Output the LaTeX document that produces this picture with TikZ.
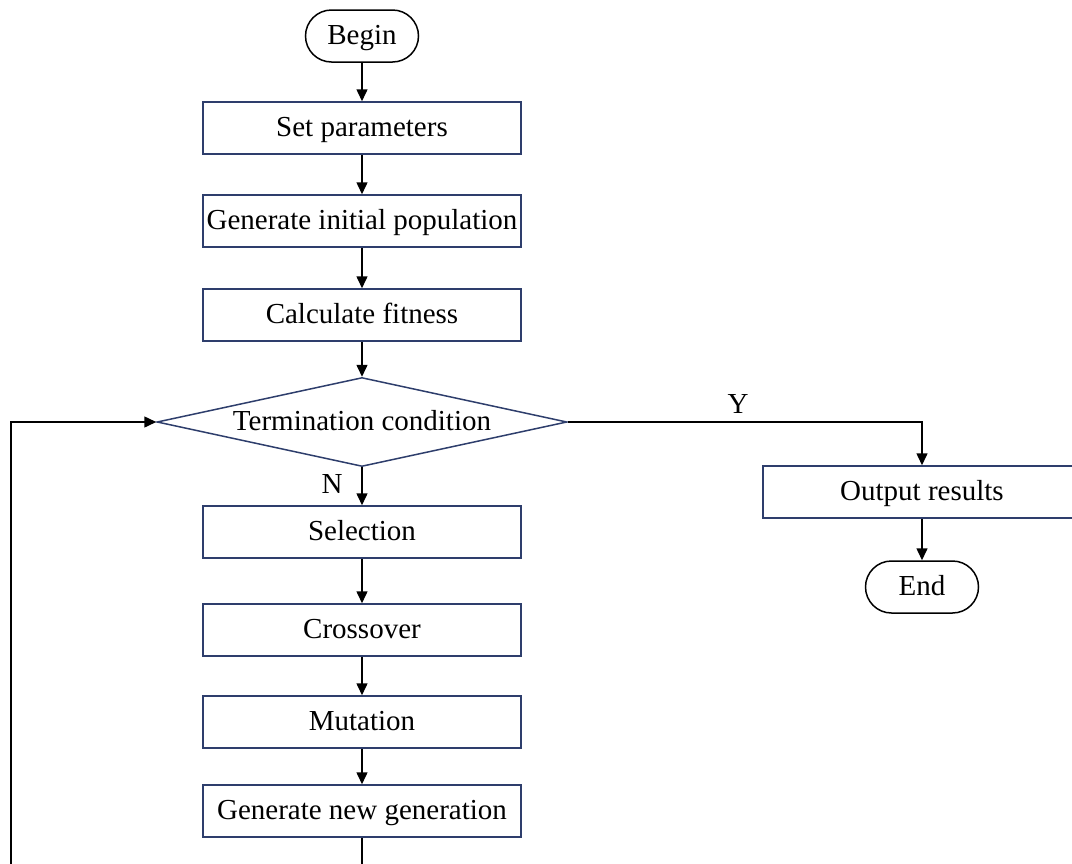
\documentclass[tikz,border=0pt]{standalone}
\usepackage{fontspec}
\setmainfont{Liberation Serif}
\usetikzlibrary{shapes.geometric,arrows.meta}
\definecolor{boxblue}{RGB}{46,62,108}
\begin{document}
\begin{tikzpicture}[x=1pt,y=-1pt,
  every node/.style={font=\fontsize{29}{34}\selectfont},
  procbox/.style={draw=boxblue,line width=1.5pt,rectangle,minimum width=318pt,minimum height=52pt,inner sep=0pt,fill=white,text height=21pt,text depth=4pt},
  termbox/.style={draw=black,line width=1.5pt,rectangle,rounded corners=26pt,minimum width=113pt,minimum height=52pt,inner sep=0pt,text height=21pt,text depth=4pt},
  decbox/.style={draw=boxblue,line width=1.5pt,diamond,aspect=4.6,minimum width=410pt,minimum height=89pt,inner sep=0pt,text height=21pt,text depth=4pt},
  flow/.style={draw=black,line width=1.5pt,-{Triangle[length=12pt,width=11pt]}},
  plain/.style={draw=black,line width=1.5pt}]
\useasboundingbox (0,0) rectangle (1072,863);
\clip (0,0) rectangle (1072,863);
\node[termbox] (begin) at (362,36) {Begin};
\node[procbox] (setp) at (362,128) {Set parameters};
\node[procbox] (init) at (362,221) {Generate initial population};
\node[procbox] (fit) at (362,315) {Calculate fitness};
\node[decbox] (term) at (362,422) {Termination condition};
\node[procbox] (sel) at (362,532) {Selection};
\node[procbox] (cross) at (362,630) {Crossover};
\node[procbox] (mut) at (362,722) {Mutation};
\node[procbox] (gen) at (362,811) {Generate new generation};
\node[procbox] (out) at (922,492) {Output results};
\node[termbox] (end) at (922,587) {End};
\node (ylab) at (738,404) {Y};
\node (nlab) at (332,484) {N};
\coordinate (loopA) at (362,880);
\coordinate (loopB) at (11,880);
\coordinate (loopC) at (11,422);
\coordinate (ycorner) at (922,422);
\draw[flow] (begin) -- (setp);
\draw[flow] (setp) -- (init);
\draw[flow] (init) -- (fit);
\draw[flow] (fit) -- (term.north);
\draw[flow] (term.south) -- (sel);
\draw[flow] (sel) -- (cross);
\draw[flow] (cross) -- (mut);
\draw[flow] (mut) -- (gen);
\draw[flow] (term.east) -- (ycorner) -- (out);
\draw[flow] (out) -- (end);
\draw[flow] (gen.south) -- (loopA) -- (loopB) -- (loopC) -- (term.west);
\end{tikzpicture}
\end{document}
